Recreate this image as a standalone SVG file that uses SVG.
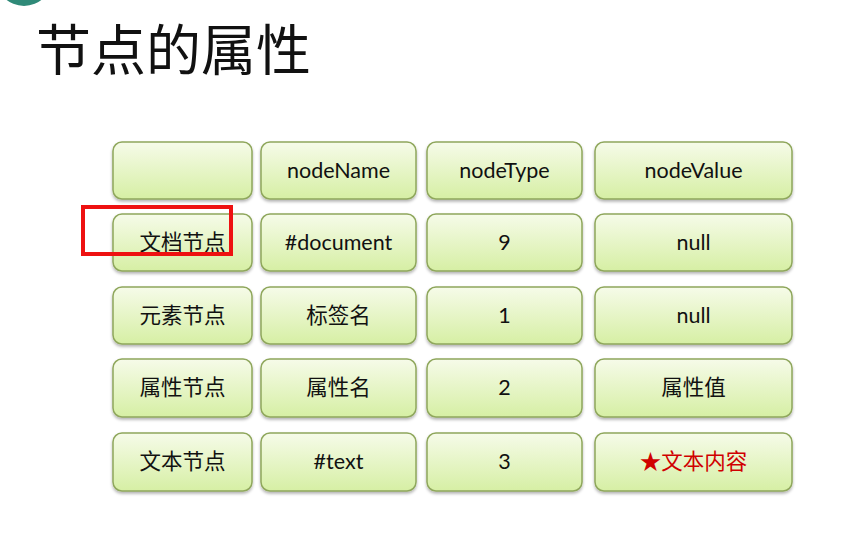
<svg xmlns="http://www.w3.org/2000/svg" width="860" height="560" viewBox="0 0 860 560">
<defs>
<linearGradient id="g" x1="0" y1="0" x2="0" y2="1">
<stop offset="0" stop-color="#f6fbe9"/>
<stop offset="1" stop-color="#d6efa4"/>
</linearGradient>
<filter id="sh" x="-10%" y="-10%" width="120%" height="140%">
<feDropShadow dx="0" dy="2" stdDeviation="1.5" flood-color="#000" flood-opacity="0.3"/>
</filter>
</defs>
<style>
.c rect{fill:url(#g);stroke:#8fa75c;stroke-width:1.5;filter:url(#sh)}
.c text{font-family:Lato,"Noto Sans CJK SC",sans-serif;font-size:21.5px;fill:#111;text-anchor:middle;dominant-baseline:central}
.title{font-family:"Noto Sans CJK SC",sans-serif;font-size:55px;fill:#111}
</style>
<rect width="860" height="560" fill="#fff"/>
<circle cx="24" cy="-22" r="28" fill="#2f8a78"/>
<text class="title" x="36" y="70">节点的属性</text>
<g id="h0" class="c"><rect x="113" y="142" width="139" height="57" rx="9"/></g>
<g id="h1" class="c"><rect x="261" y="142" width="155" height="57" rx="9"/><text x="338.5" y="170">nodeName</text></g>
<g id="h2" class="c"><rect x="427" y="142" width="155" height="57" rx="9"/><text x="504.5" y="170">nodeType</text></g>
<g id="h3" class="c"><rect x="595" y="142" width="197" height="57" rx="9"/><text x="693.5" y="170">nodeValue</text></g>

<g id="r1a" class="c"><rect x="113" y="214" width="139" height="57" rx="9"/><text x="182.5" y="242">文档节点</text></g>
<g id="r1b" class="c"><rect x="261" y="214" width="155" height="57" rx="9"/><text x="338.5" y="242">#document</text></g>
<g id="r1c" class="c"><rect x="427" y="214" width="155" height="57" rx="9"/><text x="504.5" y="242">9</text></g>
<g id="r1d" class="c"><rect x="595" y="214" width="197" height="57" rx="9"/><text x="693.5" y="242">null</text></g>

<g id="r2a" class="c"><rect x="113" y="287" width="139" height="57" rx="9"/><text x="182.5" y="315">元素节点</text></g>
<g id="r2b" class="c"><rect x="261" y="287" width="155" height="57" rx="9"/><text x="338.5" y="315">标签名</text></g>
<g id="r2c" class="c"><rect x="427" y="287" width="155" height="57" rx="9"/><text x="504.5" y="315">1</text></g>
<g id="r2d" class="c"><rect x="595" y="287" width="197" height="57" rx="9"/><text x="693.5" y="315">null</text></g>

<g id="r3a" class="c"><rect x="113" y="359" width="139" height="58" rx="9"/><text x="182.5" y="387">属性节点</text></g>
<g id="r3b" class="c"><rect x="261" y="359" width="155" height="58" rx="9"/><text x="338.5" y="387">属性名</text></g>
<g id="r3c" class="c"><rect x="427" y="359" width="155" height="58" rx="9"/><text x="504.5" y="387">2</text></g>
<g id="r3d" class="c"><rect x="595" y="359" width="197" height="58" rx="9"/><text x="693.5" y="387">属性值</text></g>

<g id="r4a" class="c"><rect x="113" y="433" width="139" height="58" rx="9"/><text x="182.5" y="461">文本节点</text></g>
<g id="r4b" class="c"><rect x="261" y="433" width="155" height="58" rx="9"/><text x="338.5" y="461">#text</text></g>
<g id="r4c" class="c"><rect x="427" y="433" width="155" height="58" rx="9"/><text x="504.5" y="461">3</text></g>
<g id="r4d" class="c"><rect x="595" y="433" width="197" height="58" rx="9"/><text x="693.5" y="461" style="fill:#d00000">★文本内容</text></g>

<rect id="highlight" x="83" y="207" width="148" height="47" fill="none" stroke="#ee1111" stroke-width="4"/>
</svg>
